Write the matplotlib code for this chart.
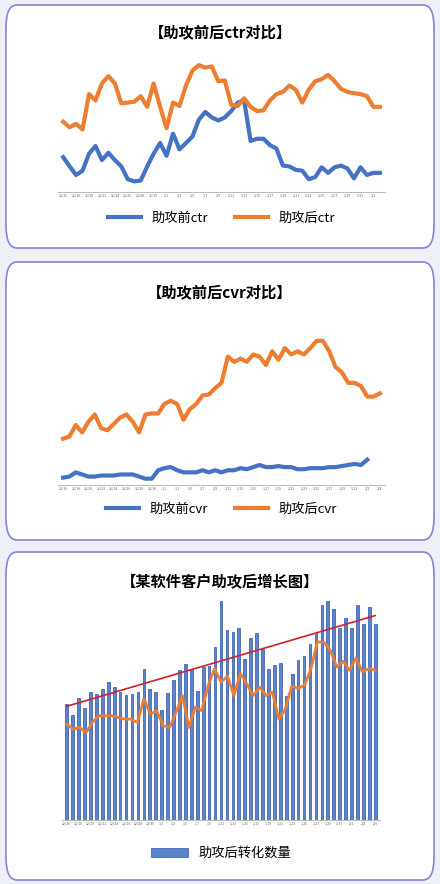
import matplotlib
matplotlib.use("Agg")
import matplotlib.pyplot as plt
from matplotlib.patches import FancyBboxPatch
import numpy as np

plt.rcParams['font.family'] = ['Noto Sans CJK SC', 'DejaVu Sans']

ctr_before = [72,50,30,40,80,98,65,82,65,50,20,15,17,50,80,105,75,127,90,105,120,160,178,165,158,165,180,200,205,110,115,115,100,92,52,50,42,40,20,25,48,35,48,52,45,22,48,30,35,35]
ctr_after = [155,142,150,137,220,205,245,262,245,198,200,202,215,190,245,190,140,200,192,240,275,288,282,285,250,252,195,192,210,190,180,182,205,220,225,240,230,200,230,250,255,265,250,232,225,222,220,215,190,190]
cvr_before = [5,6,10,8,6,6,7,7,7,8,8,8,6,4,4,12,14,15,12,10,10,10,12,10,12,10,12,12,14,13,15,17,15,15,16,15,15,13,13,14,14,14,15,15,16,17,18,17,22]
cvr_after = [42,44,55,48,58,65,52,50,56,62,65,58,48,65,66,66,75,78,75,60,70,75,83,84,90,95,120,115,118,115,122,120,112,125,117,128,122,125,122,128,135,135,125,110,105,95,95,92,82,82,85]
bars = [345,312,362,333,380,374,390,410,395,382,372,376,382,450,390,382,327,378,415,447,464,448,385,455,457,513,650,565,558,572,478,542,555,507,450,460,468,370,434,475,488,522,555,640,650,627,570,600,572,638,582,633,582]
line3 = [285,270,275,260,290,310,310,310,305,300,300,290,360,315,325,280,275,320,370,275,335,325,400,450,410,428,370,435,405,370,395,370,380,300,330,398,392,400,450,530,528,505,455,472,445,482,440,450,445]
xlabels = ['12/16','12/18','12/20','12/22','12/24','12/26','12/28','12/30','1/1','1/3','1/5','1/7','1/9','1/11','1/13','1/15','1/17','1/19','1/21','1/23','1/25','1/27','1/29','1/31','2/2','2/4','2/6']

BLUE = '#4472C4'; ORANGE = '#ED7D31'
W, H = 440, 884
fig = plt.figure(figsize=(4.4, 8.84), dpi=100)
fig.patch.set_facecolor('#eef0f8')

def card(y0, y1):
    p = FancyBboxPatch((6/W, 1 - y1/H), 428/W, (y1 - y0)/H, boxstyle="round,pad=0,rounding_size=0.025",
                       transform=fig.transFigure, facecolor='white', edgecolor='#8a80d8', linewidth=1.2, zorder=-5)
    fig.patches.append(p)

def ax_at(x0, y0, x1, y1):
    a = fig.add_axes([x0/W, 1 - y1/H, (x1 - x0)/W, (y1 - y0)/H])
    a.set_facecolor('none')
    a.set_zorder(2)
    return a

def style(ax, n):
    for s in ['top', 'right', 'left']:
        ax.spines[s].set_visible(False)
    ax.spines['bottom'].set_color('#bbbbbb')
    ax.set_yticks([])
    ticks = np.arange(0, n, 2)
    ax.set_xticks(ticks)
    ax.set_xticklabels([xlabels[i // 2 % len(xlabels)] for i in ticks], fontsize=2.5, color='#666666')
    ax.tick_params(axis='x', length=0, pad=1)
    ax.set_xlim(-0.8, n - 0.2)

card(5, 248); card(262, 540); card(552, 880)
fig.text(220/W, 1 - 32/H, '【助攻前后ctr对比】', ha='center', va='center', fontsize=11, weight='bold')
fig.text(220/W, 1 - 292/H, '【助攻前后cvr对比】', ha='center', va='center', fontsize=11, weight='bold')
fig.text(220/W, 1 - 581/H, '【某软件客户助攻后增长图】', ha='center', va='center', fontsize=11, weight='bold')

ax1 = ax_at(58, 60, 385, 192)
ax1.plot(np.arange(len(ctr_before)), ctr_before, color=BLUE, lw=3, label='助攻前ctr')
ax1.plot(np.arange(len(ctr_after)), ctr_after, color=ORANGE, lw=3, label='助攻后ctr')
ax1.set_ylim(-10, 300)
style(ax1, len(ctr_after))
ax1.legend(loc='center', bbox_to_anchor=(0.5, -0.2), ncol=2, frameon=False, fontsize=9.5, handlelength=2.5)

ax2 = ax_at(58, 325, 385, 485)
ax2.plot(np.arange(len(cvr_before)), cvr_before, color=BLUE, lw=3, label='助攻前cvr')
ax2.plot(np.arange(len(cvr_after)), cvr_after, color=ORANGE, lw=3, label='助攻后cvr')
ax2.set_ylim(-2, 150)
style(ax2, len(cvr_after))
ax2.legend(loc='center', bbox_to_anchor=(0.5, -0.15), ncol=2, frameon=False, fontsize=9.5, handlelength=2.5)

ax3 = ax_at(62, 598, 380, 820)
xb = np.arange(len(bars))
ax3.bar(xb, bars, width=0.45, color='#5b82cc', edgecolor='#2f55a4', linewidth=0.5, label='助攻后转化数量')
ax3.plot(np.arange(len(line3)) * (len(bars) - 1) / (len(line3) - 1), line3, color=ORANGE, lw=2)
k, b = np.polyfit(xb, bars, 1)
ax3.plot(xb, k * xb + b, color='#d4202a', lw=1.2)
ax3.set_ylim(0, 660)
style(ax3, len(bars))
ax3.legend(loc='center', bbox_to_anchor=(0.5, -0.15), frameon=False, fontsize=9.5, handlelength=2.8)

fig.savefig('out.png', dpi=100, facecolor=fig.get_facecolor())
